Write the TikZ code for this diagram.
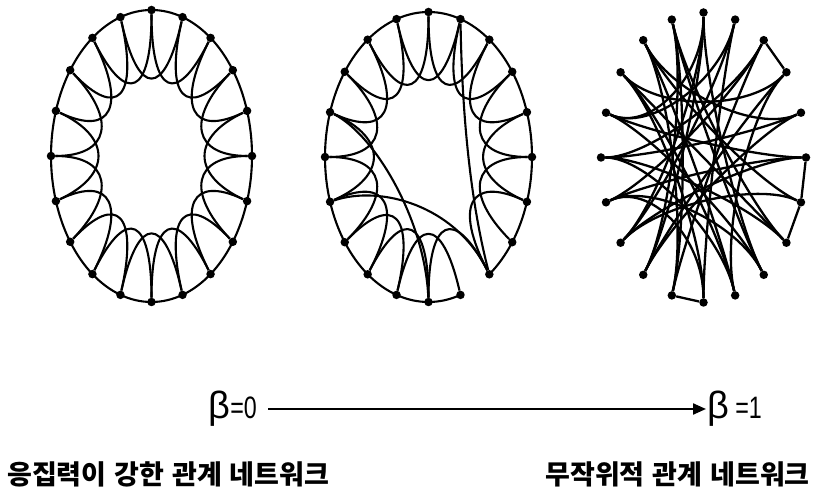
\documentclass[tikz,border=0pt]{standalone}
\usepackage{fontspec}
\setmainfont{Liberation Sans}
\newfontfamily\cjk{Noto Sans CJK KR}
\usetikzlibrary{calc,arrows.meta}
\begin{document}
\begin{tikzpicture}[x=1pt,y=1pt,
  dot/.style={circle,fill=black,inner sep=0pt,minimum size=8.5pt},
  edge/.style={line width=2.1pt},
  redge/.style={line width=2.3pt},
  lbl/.style={inner sep=0pt}]
\fill[white] (0,0) rectangle (814,492);
\useasboundingbox (0,0) rectangle (814,492);

% ---------- left: regular ring lattice ----------
\coordinate (cL) at (151.5,336);
\foreach \k in {0,...,19}
  \node[dot] (L\k) at ({151.5+100.5*cos(90-18*\k)},{336+146*sin(90-18*\k)}) {};
\foreach \k [evaluate=\k as \m using {int(mod(\k+2,20))}] in {0,...,19} {
  \draw[edge] (L\k.center) arc[start angle={90-18*\k}, delta angle=-18, x radius=100.5pt, y radius=146pt];
  \draw[edge] (L\k) .. controls ($(cL)!0.42!(L\k)$) and ($(cL)!0.42!(L\m)$) .. (L\m);
}

% ---------- middle: a few rewired edges ----------
\coordinate (cM) at (428.5,335);
\foreach \k in {0,...,19}
  \node[dot] (M\k) at ({428.5+103.5*cos(90-18*\k)},{335+145*sin(90-18*\k)}) {};
\foreach \k [evaluate=\k as \m using {int(mod(\k+2,20))}] in {0,...,19} {
  \ifnum\k=8 \else
  \draw[edge] (M\k.center) arc[start angle={90-18*\k}, delta angle=-18, x radius=103.5pt, y radius=145pt];
  \fi
  \ifnum\k=7 \else
  \draw[edge] (M\k) .. controls ($(cM)!0.42!(M\k)$) and ($(cM)!0.42!(M\m)$) .. (M\m);
  \fi
}
\draw[edge] (M16) .. controls (375,357) and (425,272) .. (M10);
\draw[edge] (M14) .. controls (380,307) and (455,287) .. (M8);
\draw[edge] (M1) .. controls (462,380) and (470,292) .. (M8);

% ---------- right: random network ----------
\coordinate (cR) at (703.5,334.5);
\foreach \k in {0,...,19}
  \node[dot] (R\k) at ({703.5+102.5*cos(90-18*\k)},{334.5+145*sin(90-18*\k)}) {};
\foreach \a/\b in {2/3,5/6,6/7,10/11}
  \draw[redge] (R\a) -- (R\b);
\foreach \a/\b in {17/3,0/12,0/8,1/13,1/10,2/14,3/9,4/15,4/12,5/16,5/13,6/18,7/15,7/19,
                   8/16,9/18,9/15,10/17,11/19,3/12,13/6,14/5,14/8,2/15,16/0,17/7,18/4,
                   19/12,11/18,1/16,0/13,8/19,9/17,10/14,2/11}
  \draw[redge] (R\a) .. controls ($(cR)!0.55!(R\a)$) and ($(cR)!0.55!(R\b)$) .. (R\b);

% ---------- beta axis ----------
\node[lbl, anchor=east] (b0) at (257,83)
  {\fontsize{38}{38}\selectfont β\scalebox{0.75}[1]{\fontsize{31}{31}\selectfont =0}};
\node[lbl, anchor=west] (b1) at (707,83)
  {\fontsize{38}{38}\selectfont β\,\scalebox{0.75}[1]{\fontsize{31}{31}\selectfont =1}};
\draw[line width=2.2pt, -{Triangle[length=13pt,width=11pt]}, shorten <=11pt, shorten >=1pt]
  (b0.east) -- (b1.west);

% ---------- captions ----------
\node[lbl, anchor=west] (t0) at (7,18)
  {\cjk\fontsize{27}{27}\selectfont\bfseries\spaceskip=8pt 응집력이 강한 관계 네트워크};
\node[lbl, anchor=east] (t1) at (810,18)
  {\cjk\fontsize{27}{27}\selectfont\bfseries\spaceskip=8pt 무작위적 관계 네트워크};
\end{tikzpicture}
\end{document}
